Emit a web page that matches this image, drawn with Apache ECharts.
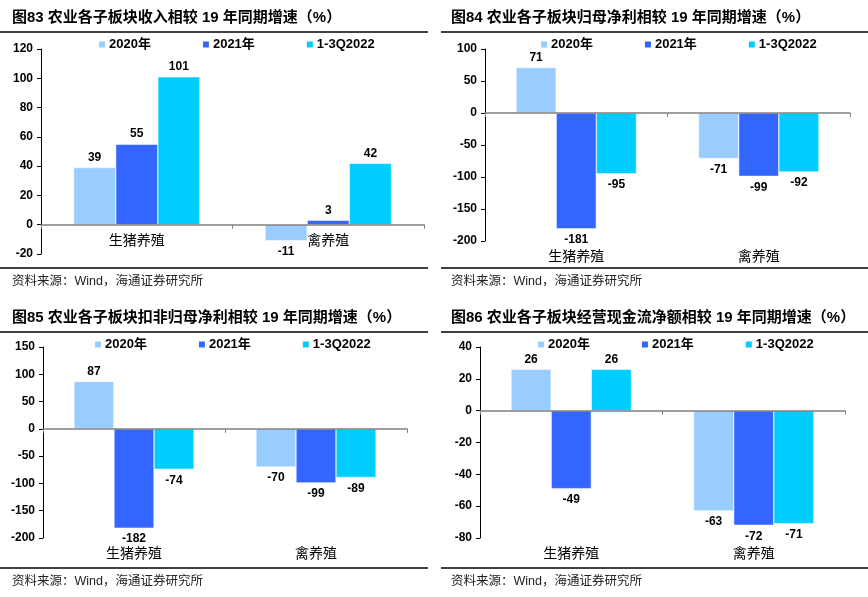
<!DOCTYPE html>
<html><head><meta charset="utf-8">
<script src="https://cdn.jsdelivr.net/npm/echarts@6/dist/echarts.min.js"></script>
<style>html,body{margin:0;padding:0;background:#fff}#c{width:868px;height:597px}</style>
</head><body><div id="c"></div>
<script>
const categories = ['生猪养殖', '禽养殖'];
const seriesNames = ['2020年', '2021年', '1-3Q2022'];
const colors = ['#99CCFF', '#3366FF', '#00CCFF'];

const p1_2020 = [39, -11], p1_2021 = [55, 3], p1_2022 = [101, 42];
const p2_2020 = [71, -71], p2_2021 = [-181, -99], p2_2022 = [-95, -92];
const p3_2020 = [87, -70], p3_2021 = [-182, -99], p3_2022 = [-74, -89];
const p4_2020 = [26, -63], p4_2021 = [-49, -72], p4_2022 = [26, -71];

const titles = [
  '图83 农业各子板块收入相较 19 年同期增速（%）',
  '图84 农业各子板块归母净利相较 19 年同期增速（%）',
  '图85 农业各子板块扣非归母净利相较 19 年同期增速（%）',
  '图86 农业各子板块经营现金流净额相较 19 年同期增速（%）'
];
const sourceText = '资料来源：Wind，海通证券研究所';
const yRanges = [[-20, 120, 20], [-200, 100, 50], [-200, 150, 50], [-80, 40, 20]];

const panels = [
  {grid: {left: 41, top: 49, width: 383, height: 205}, data: [p1_2020, p1_2021, p1_2022], py: 0, lineX: [0, 428], titleX: 12, legendX: 97, labelOffset: -29},
  {grid: {left: 485, top: 49, width: 365, height: 192}, data: [p2_2020, p2_2021, p2_2022], py: 0, lineX: [441, 868], titleX: 451, legendX: 539, labelOffset: 0},
  {grid: {left: 43, top: 347, width: 364, height: 191}, data: [p3_2020, p3_2021, p3_2022], py: 300, lineX: [0, 428], titleX: 12, legendX: 93, labelOffset: 0},
  {grid: {left: 480, top: 347, width: 365, height: 191}, data: [p4_2020, p4_2021, p4_2022], py: 300, lineX: [441, 868], titleX: 451, legendX: 536, labelOffset: 0}
];

const numFont = '"Liberation Sans", Arial, sans-serif';
const cjkFont = '"Liberation Sans", "Noto Sans CJK SC", sans-serif';

const grid = [], xAxis = [], yAxis = [], series = [], legend = [], graphic = [];

panels.forEach((p, i) => {
  grid.push(p.grid);
  const [mn, mx, iv] = yRanges[i];
  yAxis.push({
    gridIndex: i, type: 'value', min: mn, max: mx, interval: iv,
    axisLine: {show: true, lineStyle: {color: '#000', width: 1}},
    axisTick: {show: true, length: 4, lineStyle: {color: '#000'}},
    splitLine: {show: false},
    axisLabel: {color: '#000', fontWeight: 'bold', fontSize: 12, fontFamily: numFont, margin: 8}
  });
  xAxis.push({
    gridIndex: i, type: 'category', data: categories,
    axisLine: {show: true, onZero: true, lineStyle: {color: '#808080', width: 1.5}},
    axisTick: {show: true, length: 4, lineStyle: {color: '#808080'}},
    axisLabel: {show: false},
    z: 5
  });
  const xi = xAxis.length - 1;
  xAxis.push({
    gridIndex: i, type: 'category', data: categories, position: 'bottom', offset: p.labelOffset,
    axisLine: {show: false, onZero: false}, axisTick: {show: false},
    axisLabel: {color: '#000', fontSize: 14, fontFamily: '"Noto Sans CJK SC", sans-serif', margin: 8},
    z: 6
  });
  p.data.forEach((arr, k) => {
    series.push({
      type: 'bar', name: seriesNames[k], xAxisIndex: xi, yAxisIndex: i,
      barGap: '0%', barCategoryGap: '34%',
      itemStyle: {color: colors[k], borderColor: '#fff', borderWidth: 0.5},
      data: arr.map(v => ({
        value: v,
        label: {position: v < 0 ? 'bottom' : 'top', distance: v < 0 ? 5 : 4}
      })),
      label: {show: true, color: '#000', fontWeight: 'bold', fontSize: 12, fontFamily: numFont},
      z: 2
    });
  });
  legend.push({
    left: p.legendX, top: p.py + 38, padding: 0, itemWidth: 8, itemHeight: 8, itemGap: 50,
    icon: 'rect', data: seriesNames,
    textStyle: {color: '#000', fontWeight: 'bold', fontSize: 13, fontFamily: cjkFont, padding: [0, 0, 0, -2]}
  });
  graphic.push({
    type: 'text', left: p.titleX, top: p.py + 10,
    style: {text: titles[i], fill: '#000', font: 'bold 15px "Liberation Sans", "Noto Sans CJK SC", sans-serif'}
  });
  graphic.push({type: 'line', shape: {x1: p.lineX[0], y1: p.py + 32, x2: p.lineX[1], y2: p.py + 32}, style: {stroke: '#000', lineWidth: 1.5}});
  graphic.push({type: 'line', shape: {x1: p.lineX[0], y1: p.py + 268, x2: p.lineX[1], y2: p.py + 268}, style: {stroke: '#000', lineWidth: 1.5}});
  graphic.push({
    type: 'text', left: p.titleX, top: p.py + 275,
    style: {text: sourceText, fill: '#222', font: '12.5px "Liberation Sans", "Noto Sans CJK SC", sans-serif'}
  });
});

const chart = echarts.init(document.getElementById('c'));
chart.setOption({animation: false, grid, xAxis, yAxis, series, legend, graphic});
</script></body></html>
